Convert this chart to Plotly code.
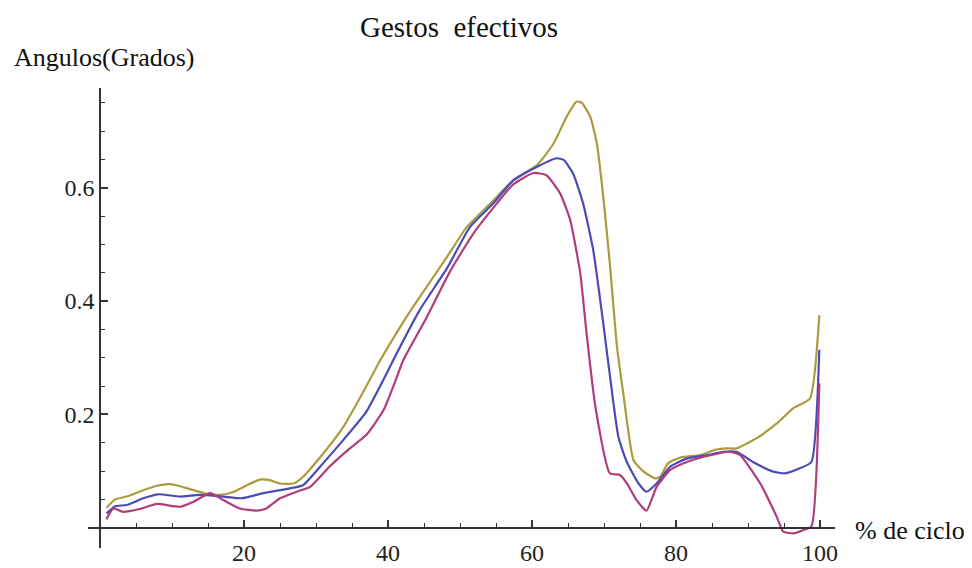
import plotly.graph_objects as go

# ---- data ----
gold_x = [0.9, 2.1, 3.7, 6.0, 7.9, 9.5, 10.6, 12.5, 14.8, 16.7, 18.5, 20.4, 22.2, 23.6, 25.0, 26.9,
          28.2, 31.0, 33.8, 37.0, 38.9, 41.0, 43.5, 48.2, 50.9, 54.2, 57.4, 60.7, 63.0, 64.8, 66.2,
          66.9, 68.1, 69.0, 69.9, 70.8, 71.8, 72.7, 74.1, 75.5, 77.1, 77.8, 78.9, 80.6, 83.3, 85.6,
          87.0, 88.4, 91.2, 94.0, 96.3, 98.6, 99.9]
gold_y = [0.035, 0.050, 0.055, 0.066, 0.074, 0.077, 0.075, 0.068, 0.060, 0.058, 0.063, 0.075, 0.085,
          0.084, 0.078, 0.078, 0.090, 0.131, 0.178, 0.250, 0.295, 0.340, 0.390, 0.478, 0.530, 0.572,
          0.613, 0.640, 0.678, 0.725, 0.752, 0.750, 0.725, 0.678, 0.584, 0.467, 0.320, 0.235, 0.119,
          0.099, 0.087, 0.090, 0.114, 0.124, 0.128, 0.138, 0.140, 0.140, 0.158, 0.184, 0.211, 0.228,
          0.375]

blue_x = [0.9, 2.1, 3.7, 6.0, 8.1, 11.1, 13.9, 17.1, 19.7, 22.7, 26.4, 28.2, 31.0, 33.8, 37.0, 39.8,
          40.7, 44.4, 48.2, 51.4, 54.6, 57.4, 60.7, 63.4, 64.4, 65.7, 67.1, 68.5, 69.9, 70.8, 72.0,
          73.2, 74.8, 75.9, 77.3, 79.2, 81.5, 84.3, 86.6, 88.4, 90.7, 93.5, 95.1, 97.2, 98.8, 99.9]
blue_y = [0.025, 0.038, 0.040, 0.052, 0.059, 0.055, 0.058, 0.055, 0.052, 0.061, 0.0695, 0.075, 0.114,
          0.155, 0.205, 0.272, 0.295, 0.384, 0.458, 0.531, 0.572, 0.613, 0.637, 0.652, 0.649, 0.625,
          0.572, 0.490, 0.360, 0.270, 0.160, 0.115, 0.078, 0.0635, 0.078, 0.108, 0.122, 0.128, 0.134,
          0.134, 0.116, 0.099, 0.096, 0.105, 0.116, 0.314]

mag_x = [0.9, 1.85, 3.2, 5.5, 7.9, 11.1, 13.0, 15.3, 17.1, 19.4, 21.8, 23.1, 25.0, 27.3, 29.2, 31.9,
         34.7, 37.0, 39.4, 41.2, 42.1, 45.4, 48.6, 51.9, 55.1, 57.4, 60.2, 62.0, 63.9, 65.3, 66.7,
         67.6, 68.8, 70.8, 72.2, 73.2, 74.5, 75.9, 77.3, 79.2, 81.5, 84.3, 87.5, 88.9, 91.7, 94.0,
         94.9, 96.3, 97.7, 98.8, 99.9]
mag_y = [0.015, 0.034, 0.028, 0.033, 0.042, 0.037, 0.046, 0.061, 0.049, 0.034, 0.030, 0.034, 0.052,
         0.0635, 0.072, 0.108, 0.140, 0.164, 0.208, 0.265, 0.295, 0.372, 0.452, 0.520, 0.572, 0.606,
         0.626, 0.622, 0.590, 0.543, 0.449, 0.340, 0.2135, 0.096, 0.093, 0.078, 0.049, 0.030, 0.072,
         0.102, 0.116, 0.1265, 0.134, 0.128, 0.078, 0.019, -0.007, -0.010, -0.004, 0.002, 0.255]

x_ticks = [20, 40, 60, 80, 100]
y_ticks = [0.2, 0.4, 0.6]
y_tick_text = ["0.2", "0.4", "0.6"]

FONT = "Liberation Serif, Times New Roman, serif"

# the page body has an 8px margin, so the figure is drawn from (8, 8)
W, H = 964, 560
L, T = 80, 80            # plot area: page x 88..835, y 88..548
PW, PH = 747, 460


def px(xp):  # page x -> paper fraction
    return (xp - 8 - L) / PW


def py(yp):  # page y -> paper fraction
    return (T + PH - (yp - 8)) / PH


fig = go.Figure()
for xs, ys, col in [(gold_x, gold_y, "#aa9c3e"), (blue_x, blue_y, "#4b4bb8"), (mag_x, mag_y, "#b03c7a")]:
    fig.add_trace(go.Scatter(x=xs, y=ys, mode="lines",
                             line=dict(color=col, width=2.2, shape="spline", smoothing=0.5),
                             showlegend=False, hoverinfo="skip"))

fig.update_layout(
    width=W, height=H,
    margin=dict(l=L, r=W - L - PW, t=T, b=H - T - PH, autoexpand=False),
    paper_bgcolor="white", plot_bgcolor="white",
    font=dict(family=FONT, size=24, color="black"),
    xaxis=dict(range=[-1.667, 102.08], showgrid=False, zeroline=False, automargin=False,
               showline=True, linecolor="#333", linewidth=1.5,
               anchor="free", position=20.3 / 460,
               tickvals=x_ticks, ticks="inside", ticklen=7, tickwidth=1.5, tickcolor="#333",
               ticklabelstandoff=4,
               minor=dict(dtick=5, tick0=0, ticks="inside", ticklen=4, tickwidth=1.2, tickcolor="#333"),
               tickfont=dict(family=FONT, size=24, color="#222")),
    yaxis=dict(range=[-0.0358, 0.776], showgrid=False, zeroline=False, automargin=False,
               showline=True, linecolor="#333", linewidth=1.5,
               anchor="free", position=12 / 747,
               tickvals=y_ticks, ticktext=y_tick_text, ticks="inside", ticklen=7, tickwidth=1.5,
               tickcolor="#333",
               minor=dict(dtick=0.05, tick0=0, ticks="inside", ticklen=4, tickwidth=1.2, tickcolor="#333"),
               tickfont=dict(family=FONT, size=24, color="#222")),
)

fig.add_annotation(text="Gestos  efectivos", xref="paper", yref="paper",
                   x=px(459), y=py(8.5), xanchor="center", yanchor="top",
                   showarrow=False, font=dict(family=FONT, size=29, color="#111"))
fig.add_annotation(text="Angulos(Grados)", xref="paper", yref="paper",
                   x=px(12), y=py(58), xanchor="left", yanchor="middle",
                   showarrow=False, font=dict(family=FONT, size=26, color="#111"))
fig.add_annotation(text="% de ciclo", xref="paper", yref="paper",
                   x=px(853), y=py(530), xanchor="left", yanchor="middle",
                   showarrow=False, font=dict(family=FONT, size=26, color="#111"))

fig.write_html("out.html")
